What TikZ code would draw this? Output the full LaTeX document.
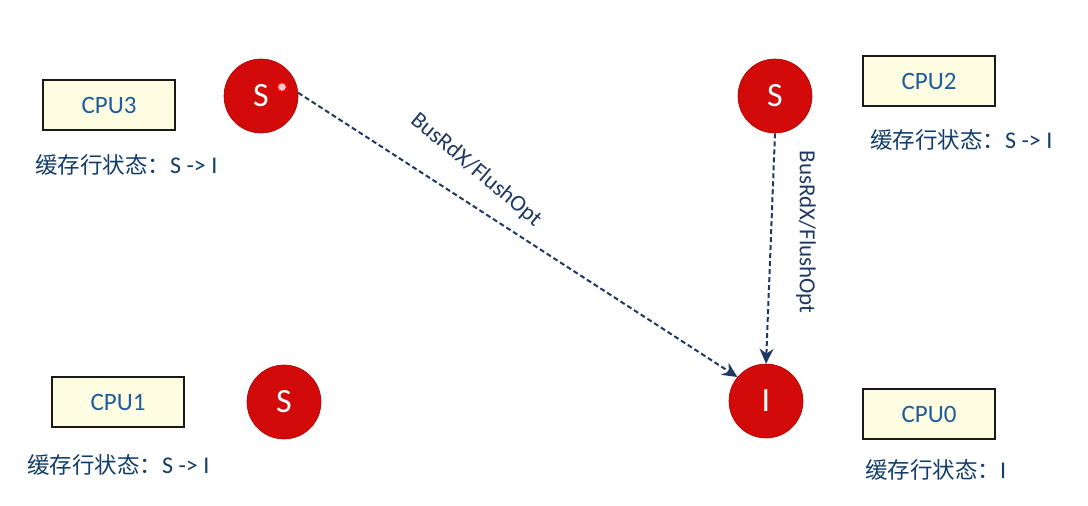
\documentclass[tikz,border=0pt]{standalone}
\usepackage{fontspec}
\setmainfont{Carlito}
\newfontfamily\cjk{Noto Sans CJK SC}
\usetikzlibrary{arrows.meta}
\definecolor{cpured}{HTML}{D20A0A}
\definecolor{cpuredd}{HTML}{B00000}
\definecolor{navy}{HTML}{1F3864}
\definecolor{boxfill}{HTML}{FEFDE2}
\definecolor{cpublue}{HTML}{1F5C9E}
\definecolor{stat}{HTML}{123D6B}
\begin{document}
\begin{tikzpicture}[x=1pt,y=-1pt,
  state/.style={circle,fill=cpured,draw=cpuredd,line width=0.6pt,minimum size=74pt,inner sep=0pt,text=white,font=\fontsize{34}{34}\selectfont},
  cpubox/.style={draw=black!90,line width=2pt,fill=boxfill,minimum width=132pt,minimum height=50pt,inner sep=0pt,text=cpublue,font=\fontsize{25}{25}\selectfont},
  status/.style={text=stat,inner sep=0pt,anchor=west,font=\fontsize{24}{24}\selectfont},
  bus/.style={draw=navy,line width=2pt,dash pattern=on 5pt off 3pt,-{Stealth[length=15pt,width=14pt]}},
  buslbl/.style={text=navy,inner sep=0pt,font=\fontsize{23}{23}\selectfont}]
\useasboundingbox (0,0) rectangle (1088,506);
% CPU boxes
\node[cpubox] (cpu3) at (109,105) {CPU3};
\node[cpubox] (cpu2) at (929,81) {CPU2};
\node[cpubox] (cpu1) at (118,402) {CPU1};
\node[cpubox] (cpu0) at (929,414) {CPU0};
% status texts
\node[status] (st3) at (35,165) {{\cjk\fontsize{22.5}{22.5}\selectfont 缓存行状态：}S -> I};
\node[status] (st2) at (870,140) {{\cjk\fontsize{22.5}{22.5}\selectfont 缓存行状态：}S -> I};
\node[status] (st1) at (27,465) {{\cjk\fontsize{22.5}{22.5}\selectfont 缓存行状态：}S -> I};
\node[status] (st0) at (865,470) {{\cjk\fontsize{22.5}{22.5}\selectfont 缓存行状态：}I};
% state circles
\node[state] (s3) at (261,96) {S};
\node[state] (s2) at (775,96) {S};
\node[state] (s1) at (284,402) {S};
\node[state] (i0) at (766,401) {I};
% small marker on S3
\node[circle,draw=red,fill=red!20!white,line width=2pt,minimum size=10pt,inner sep=0pt] (mk) at (282,87) {};
% connectors
\draw[bus] (s3.5) -- (i0.140);
\draw[bus] (s2.south) -- (i0.north);
\node[buslbl,rotate=-40] (l1) at (476,170) {BusRdX/FlushOpt};
\node[buslbl,rotate=-90] (l2) at (806,232) {BusRdX/FlushOpt};
\end{tikzpicture}
\end{document}
